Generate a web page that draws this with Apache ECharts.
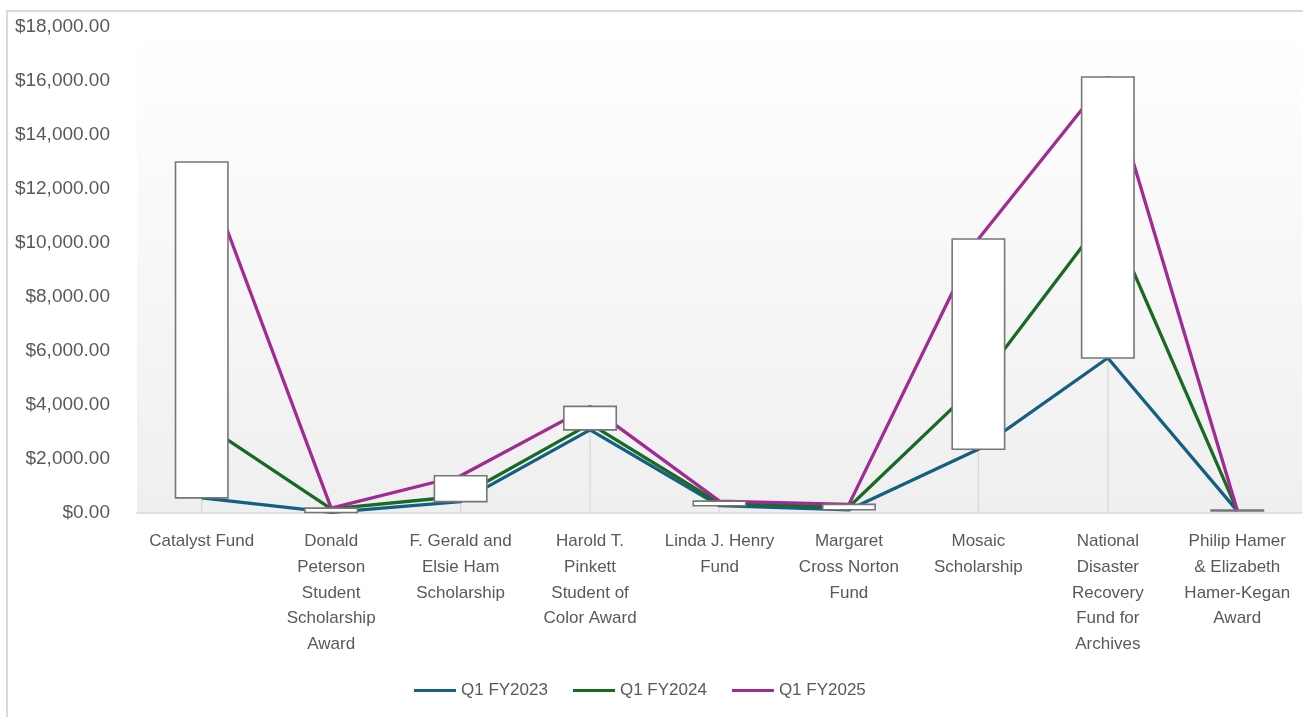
<!DOCTYPE html>
<html>
<head>
<meta charset="utf-8">
<script src="https://cdn.jsdelivr.net/npm/echarts@6/dist/echarts.min.js"></script>
<style>
  html, body { margin: 0; padding: 0; background: #ffffff; }
  #wrap { position: relative; width: 1303px; height: 717px; overflow: hidden; }
  #chart { position: absolute; left: 0; top: 0; width: 1303px; height: 717px; }
  #frame { position: absolute; left: 6px; top: 10px; width: 1400px; height: 800px;
           border-left: 2px solid #dadada; border-top: 2px solid #dadada; pointer-events: none; }
</style>
</head>
<body>
<div id="wrap">
  <div id="chart"></div>
  <div id="frame"></div>
</div>
<script>
// ---- data ----
const categories = [
  "Catalyst Fund",
  "Donald\nPeterson\nStudent\nScholarship\nAward",
  "F. Gerald and\nElsie Ham\nScholarship",
  "Harold T.\nPinkett\nStudent of\nColor Award",
  "Linda J. Henry\nFund",
  "Margaret\nCross Norton\nFund",
  "Mosaic\nScholarship",
  "National\nDisaster\nRecovery\nFund for\nArchives",
  "Philip Hamer\n& Elizabeth\nHamer-Kegan\nAward"
];
const seriesNames = ["Q1 FY2023", "Q1 FY2024", "Q1 FY2025"];
const q1FY2023 = [560, 20, 420, 3080, 270, 120, 2360, 5740, 80];
const q1FY2024 = [3350, 150, 620, 3300, 360, 220, 4800, 11120, 95];
const q1FY2025 = [13000, 180, 1380, 3950, 440, 320, 10150, 16150, 105];
const yTicks = { min: 0, max: 18000, interval: 2000 };

// ---- derived ----
const colors = ["#156082", "#196B24", "#A02B93"];
const allSeries = [q1FY2023, q1FY2024, q1FY2025];
const upDownData = categories.map((c, i) => [i, q1FY2023[i], q1FY2025[i]]);
const dropData = categories.map((c, i) => [i, Math.max(q1FY2023[i], q1FY2024[i], q1FY2025[i])]);

const FONT = "'Liberation Sans', Arial, sans-serif";
const chart = echarts.init(document.getElementById('chart'), null, { renderer: 'canvas' });

const option = {
  animation: false,
  backgroundColor: 'transparent',
  grid: {
    left: 137, right: 1, top: 27, bottom: 204,
    containLabel: false,
    outerBoundsMode: 'none',
    show: true,
    borderWidth: 0,
    backgroundColor: {
      type: 'linear', x: 0, y: 0, x2: 0, y2: 1,
      colorStops: [
        { offset: 0, color: '#ffffff' },
        { offset: 0.12, color: '#fdfdfd' },
        { offset: 1, color: '#efefef' }
      ]
    }
  },
  legend: {
    data: seriesNames,
    left: 409,
    top: 677,
    icon: 'rect',
    itemWidth: 42,
    itemHeight: 3,
    itemGap: 25,
    textStyle: { color: '#595959', fontSize: 17, fontFamily: FONT, padding: [0, 0, 0, 0] }
  },
  xAxis: {
    type: 'category',
    data: categories,
    boundaryGap: true,
    axisLine: { show: true, lineStyle: { color: '#d9d9d9', width: 1.5 } },
    axisTick: { show: false },
    splitLine: { show: false },
    axisLabel: {
      interval: 0,
      margin: 16,
      color: '#595959',
      fontSize: 17,
      lineHeight: 25.6,
      fontFamily: FONT,
      align: 'center'
    }
  },
  yAxis: {
    type: 'value',
    min: yTicks.min,
    max: yTicks.max,
    interval: yTicks.interval,
    axisLine: { show: false },
    axisTick: { show: false },
    splitLine: { show: false },
    axisLabel: {
      margin: 27,
      color: '#595959',
      fontSize: 19,
      fontFamily: FONT,
      formatter: v => '$' + v.toLocaleString('en-US', { minimumFractionDigits: 2, maximumFractionDigits: 2 })
    }
  },
  series: [
    {
      name: 'drop',
      type: 'custom',
      z: 1,
      silent: true,
      data: dropData,
      encode: { x: 0, y: 1 },
      renderItem: (params, api) => {
        const i = api.value(0);
        const top = api.coord([i, api.value(1)]);
        const bot = api.coord([i, 0]);
        return {
          type: 'line',
          shape: { x1: top[0], y1: top[1], x2: bot[0], y2: bot[1] },
          style: { stroke: '#d6d6d6', lineWidth: 1.2 }
        };
      }
    },
    ...seriesNames.map((name, k) => ({
      name: name,
      type: 'line',
      z: 2,
      data: allSeries[k],
      showSymbol: false,
      symbol: 'none',
      smooth: false,
      color: colors[k],
      lineStyle: { color: colors[k], width: 3.3 }
    })),
    {
      name: 'updown',
      type: 'custom',
      z: 5,
      silent: true,
      data: upDownData,
      encode: { x: 0, y: [1, 2] },
      renderItem: (params, api) => {
        const i = api.value(0);
        const a = api.coord([i, api.value(1)]);
        const b = api.coord([i, api.value(2)]);
        const w = api.size([1, 0])[0] * 0.405;
        const y1 = Math.min(a[1], b[1]);
        const h = Math.abs(a[1] - b[1]);
        return {
          type: 'rect',
          shape: { x: a[0] - w / 2, y: y1, width: w, height: h },
          style: { fill: '#ffffff', stroke: '#767676', lineWidth: 1.6 }
        };
      }
    }
  ]
};
chart.setOption(option);
</script>
</body>
</html>
